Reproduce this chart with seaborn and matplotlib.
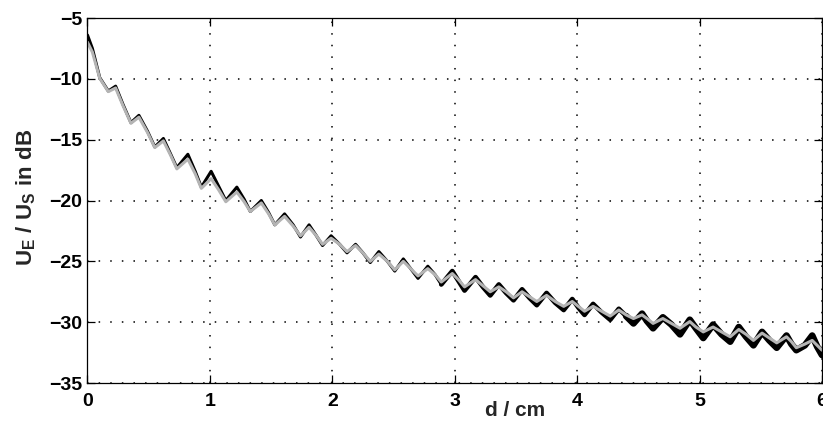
import matplotlib
matplotlib.use("Agg")
import matplotlib.pyplot as plt
import seaborn as sns
import pandas as pd

# distance d / cm (peaks, troughs and mid-fall points)
d = [0.00, 0.04, 0.10, 0.17, 0.23, 0.29, 0.355, 0.42, 0.49, 0.55, 0.62, 0.68,
     0.73, 0.82, 0.88, 0.93, 1.01, 1.07, 1.13, 1.22, 1.28, 1.33, 1.42, 1.48,
     1.53, 1.61, 1.68, 1.74, 1.81, 1.87, 1.92, 1.99, 2.06, 2.12, 2.19, 2.25,
     2.31, 2.38, 2.45, 2.51, 2.58, 2.64, 2.70, 2.78, 2.84, 2.89, 2.98, 3.03,
     3.08, 3.17, 3.23, 3.29, 3.36, 3.42, 3.48, 3.55, 3.61, 3.67, 3.75, 3.82,
     3.89, 3.96, 4.01, 4.06, 4.13, 4.20, 4.27, 4.34, 4.40, 4.46, 4.53, 4.57,
     4.62, 4.70, 4.77, 4.84, 4.92, 4.97, 5.03, 5.11, 5.18, 5.25, 5.32, 5.38,
     5.44, 5.51, 5.57, 5.63, 5.71, 5.75, 5.79, 5.86, 5.92, 5.96, 6.00]

# simulated trace (gray), dB
gray = [-7.0, -7.8, -9.95, -11.05, -10.75, -12.2, -13.65, -13.15, -14.4, -15.65, -15.1, -16.3,
        -17.4, -16.6, -17.8, -19.0, -18.2, -19.1, -20.1, -19.3, -20.1, -20.9, -20.2, -21.1,
        -22.0, -21.3, -22.1, -22.9, -22.2, -22.9, -23.6, -23.1, -23.6, -24.2, -23.7, -24.3,
        -25.0, -24.4, -25.0, -25.7, -25.0, -25.6, -26.2, -25.6, -26.1, -26.7, -26.0, -26.5,
        -27.1, -26.5, -27.0, -27.5, -27.1, -27.5, -28.0, -27.5, -27.9, -28.3, -27.8, -28.3,
        -28.7, -28.3, -28.7, -29.1, -28.7, -29.1, -29.5, -29.0, -29.4, -29.7, -29.4, -29.7,
        -30.1, -29.7, -30.1, -30.5, -29.95, -30.4, -30.8, -30.4, -30.8, -31.2, -30.6, -31.0,
        -31.5, -30.9, -31.3, -31.7, -31.2, -31.6, -32.1, -31.8, -31.5, -31.9, -32.3]

# measured trace (black), dB
black = [-6.4, -7.5, -9.9, -11.0, -10.6, -12.1, -13.6, -13.0, -14.3, -15.6, -14.9, -16.2,
         -17.3, -16.2, -17.6, -18.9, -17.6, -18.8, -20.0, -18.9, -19.9, -20.9, -20.0, -21.0,
         -22.0, -21.1, -22.0, -23.0, -22.0, -22.9, -23.7, -22.9, -23.6, -24.3, -23.6, -24.3,
         -25.1, -24.2, -25.0, -25.8, -24.8, -25.6, -26.4, -25.4, -26.1, -26.9, -25.8, -26.6,
         -27.4, -26.3, -27.1, -27.8, -26.9, -27.6, -28.2, -27.3, -28.0, -28.6, -27.6, -28.4,
         -29.0, -28.1, -28.8, -29.4, -28.5, -29.2, -29.8, -28.9, -29.5, -30.1, -29.3, -29.9,
         -30.5, -29.6, -30.2, -31.0, -29.8, -30.5, -31.3, -30.2, -31.0, -31.6, -30.4, -31.2,
         -31.9, -30.8, -31.5, -32.1, -31.1, -31.8, -32.3, -31.9, -31.1, -32.0, -32.7]

x_ticks = [0, 1, 2, 3, 4, 5, 6]
y_ticks = [-35, -30, -25, -20, -15, -10, -5]

df = pd.DataFrame({"d": d, "gray": gray, "black": black})

sns.set_style("white")
plt.rcParams["font.family"] = ["Liberation Sans", "DejaVu Sans"]
plt.rcParams["font.weight"] = "bold"
plt.rcParams["mathtext.fontset"] = "custom"
plt.rcParams["mathtext.rm"] = "Liberation Sans:bold"
plt.rcParams["mathtext.bf"] = "Liberation Sans:bold"
plt.rcParams["mathtext.it"] = "Liberation Sans:bold"

fig = plt.figure(figsize=(8.23, 4.25), dpi=100)
ax = fig.add_axes([0.1063, 0.0988, 0.8925, 0.8588])

line_kw = dict(solid_joinstyle="round", solid_capstyle="round")
# measured curve, noise band gets thicker with distance
sns.lineplot(data=df, x="d", y="black", color="black", lw=2.2, ax=ax, **line_kw)
sns.lineplot(data=df[df["d"] >= 2.85], x="d", y="black", color="black", lw=3.4, ax=ax, **line_kw)
sns.lineplot(data=df[df["d"] >= 4.4], x="d", y="black", color="black", lw=4.8, ax=ax, **line_kw)
# simulated curve
sns.lineplot(data=df, x="d", y="gray", color="#b4b4b4", lw=2.2, ax=ax, **line_kw)

ax.set_xlim(0, 6)
ax.set_ylim(-35, -5)
ax.set_xticks(x_ticks)
ax.set_yticks(y_ticks)
ax.grid(True, color="black", linestyle=(0, (1, 6.6)), linewidth=1.1)
for s in ax.spines.values():
    s.set_visible(True)
    s.set_color("black")
    s.set_linewidth(0.9)
ax.tick_params(direction="in", length=6, width=0.9, top=True, right=True,
               bottom=True, left=True, labelsize=14, colors="black")
ax.tick_params(axis="x", pad=7)
ax.tick_params(axis="y", pad=4)
for lab in ax.get_xticklabels() + ax.get_yticklabels():
    lab.set_fontweight("bold")

ax.set_xlabel("d / cm", fontsize=15, fontweight="bold")
ax.xaxis.set_label_coords(0.582, -0.05)
ax.set_ylabel(r"$\mathbf{U_E\ /\ U_S\ in\ dB}$", fontsize=16)
ax.yaxis.set_label_coords(-0.068, 0.51)

fig.savefig("out.png", dpi=100)
